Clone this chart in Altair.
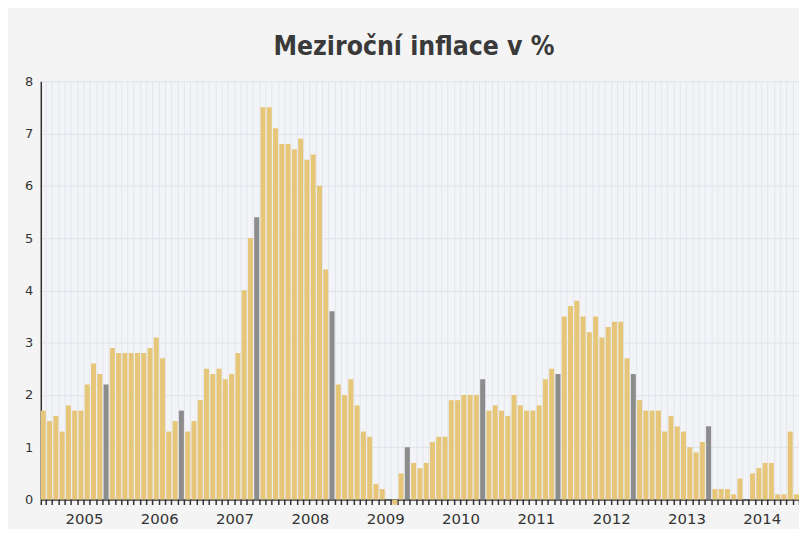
import altair as alt
import pandas as pd

# Year-on-year inflation in %, monthly bars
vals_2005 = [1.7, 1.5, 1.6, 1.3, 1.8, 1.7, 1.7, 2.2, 2.6, 2.4, 2.2]
vals_2006 = [2.9, 2.8, 2.8, 2.8, 2.8, 2.8, 2.9, 3.1, 2.7, 1.3, 1.5, 1.7]
vals_2007 = [1.3, 1.5, 1.9, 2.5, 2.4, 2.5, 2.3, 2.4, 2.8, 4.0, 5.0, 5.4]
vals_2008 = [7.5, 7.5, 7.1, 6.8, 6.8, 6.7, 6.9, 6.5, 6.6, 6.0, 4.4, 3.6]
vals_2009 = [2.2, 2.0, 2.3, 1.8, 1.3, 1.2, 0.3, 0.2, 0.0, -0.1, 0.5, 1.0]
vals_2010 = [0.7, 0.6, 0.7, 1.1, 1.2, 1.2, 1.9, 1.9, 2.0, 2.0, 2.0, 2.3]
vals_2011 = [1.7, 1.8, 1.7, 1.6, 2.0, 1.8, 1.7, 1.7, 1.8, 2.3, 2.5, 2.4]
vals_2012 = [3.5, 3.7, 3.8, 3.5, 3.2, 3.5, 3.1, 3.3, 3.4, 3.4, 2.7, 2.4]
vals_2013 = [1.9, 1.7, 1.7, 1.7, 1.3, 1.6, 1.4, 1.3, 1.0, 0.9, 1.1, 1.4]
vals_2014 = [0.2, 0.2, 0.2, 0.1, 0.4, 0.0, 0.5, 0.6, 0.7, 0.7, 0.1, 0.1, 1.3, 0.1]

# bars drawn in grey (year-end months)
highlight_idx = [10, 22, 34, 46, 58, 70, 82, 94, 106]

# x-axis year labels and the bar they sit under
year_labels = ["2005", "2006", "2007", "2008", "2009", "2010", "2011", "2012", "2013", "2014"]
year_label_idx = [6, 18, 30, 42, 54, 66, 78, 90, 102, 114]

values = (vals_2005 + vals_2006 + vals_2007 + vals_2008 + vals_2009 +
          vals_2010 + vals_2011 + vals_2012 + vals_2013 + vals_2014)

df = pd.DataFrame({
    "idx": list(range(len(values))),
    "value": values,
    "kind": ["prosinec" if i in highlight_idx else "měsíc" for i in range(len(values))],
})

label_expr = "''"
for i, lab in reversed(list(zip(year_label_idx, year_labels))):
    label_expr = f"datum.value == {i} ? '{lab}' : ({label_expr})"

chart = alt.Chart(df).mark_bar().encode(
    x=alt.X(
        "idx:O",
        scale=alt.Scale(paddingInner=0.2, paddingOuter=0.0),
        axis=alt.Axis(
            title=None,
            labelExpr=label_expr,
            labelAngle=0,
            labelOverlap=False,
            tickBand="extent",
            grid=True,
            gridColor="#e4e6ed",
            gridWidth=1,
            domainColor="#333333",
            domainWidth=1.5,
            tickColor="#333333",
            tickSize=5,
            tickWidth=1.5,
            labelFont="DejaVu Sans",
            labelFontSize=15,
            labelColor="#333333",
            labelPadding=7,
            labelOffset=3,
        ),
    ),
    y=alt.Y(
        "value:Q",
        scale=alt.Scale(domain=[0, 8], nice=False),
        axis=alt.Axis(
            title=None,
            values=[0, 1, 2, 3, 4, 5, 6, 7, 8],
            grid=True,
            gridColor="#dfe2ea",
            domainColor="#333333",
            domainWidth=1.5,
            ticks=False,
            labelFont="DejaVu Sans",
            labelFontSize=13,
            labelColor="#333333",
            labelPadding=8,
        ),
    ),
    color=alt.Color(
        "kind:N",
        scale=alt.Scale(domain=["měsíc", "prosinec"], range=["#e6c678", "#8c8c8c"]),
        legend=None,
    ),
).properties(
    width=763,
    height=421,
    title=alt.Title(
        "Meziroční inflace v %",
        font="DejaVu Sans Condensed",
        fontSize=26.5,
        fontWeight="bold",
        color="#3a3a3a",
        anchor="middle",
        offset=15,
        dx=-6,
    ),
    padding={"left": 33, "top": 72, "right": 0, "bottom": 28},
    autosize=alt.AutoSizeParams(type="none"),
    background="#f4f4f4",
).configure_view(
    fill="#f3f4f7",
    stroke=None,
)

chart.save("out.html", embed_options={"renderer": "svg", "actions": False})
